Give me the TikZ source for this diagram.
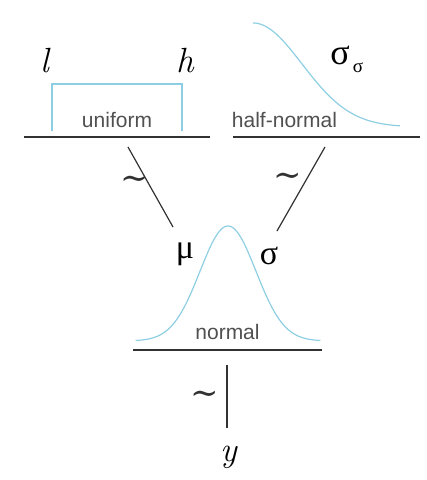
\documentclass[tikz,border=0pt]{standalone}
\usepackage{fontspec}
\setsansfont{Liberation Sans}
\newfontfamily\grk{Liberation Serif}
\newfontfamily\symf{DejaVu Serif}
\definecolor{curveblue}{RGB}{142,206,226}
\definecolor{ink}{RGB}{50,50,50}
\definecolor{lab}{RGB}{80,80,80}
\begin{document}
\begin{tikzpicture}[x=1pt,y=-1pt,
  rule/.style={ink, line width=1.4pt},
  conn/.style={ink, line width=1.2pt},
  dens/.style={curveblue, line width=1.2pt},
  lbl/.style={lab, font=\sffamily\fontsize{21}{24}\selectfont, anchor=base, inner sep=0pt},
  var/.style={font=\itshape\fontsize{35}{40}\selectfont, anchor=base, inner sep=0pt},
  grkvar/.style={font=\grk\fontsize{34}{40}\selectfont, anchor=base, inner sep=0pt},
  tilde/.style={ink, font=\symf\fontsize{34}{38}\selectfont, inner sep=0pt}]
\useasboundingbox (0,0) rectangle (427,480);
% uniform
\node[var] (l) at (45,72) {l};
\node[var] (h) at (185,72) {h};
\draw[dens] (52,131) -- (52,84) -- (182,84) -- (182,131);
\node[lbl] (uni) at (117,127) {uniform};
\coordinate (ruleUa) at (24,137);
\coordinate (ruleUb) at (210,137);
\draw[rule] (ruleUa) -- (ruleUb);
% half-normal
\draw[dens] plot[domain=0:3, samples=80] ({253+49*\x},{127-104*exp(-(\x)*(\x)/2)});
\node[font=\grk\fontsize{36}{40}\selectfont, anchor=base, inner sep=0pt] (ss) at (340,64) {σ};
\node[font=\grk\fontsize{19}{22}\selectfont, anchor=base, inner sep=0pt] (sss) at (358,72) {σ};
\node[lbl] (half) at (284.5,127) {half-normal};
\coordinate (ruleHa) at (233,137);
\coordinate (ruleHb) at (420,137);
\draw[rule] (ruleHa) -- (ruleHb);
% connectors to mu and sigma
\coordinate (c1a) at (128,147);
\coordinate (c1b) at (173,227);
\coordinate (c2a) at (325,147);
\coordinate (c2b) at (277,231);
\draw[conn] (c1a) -- (c1b);
\draw[conn] (c2a) -- (c2b);
\node[tilde] (t1) at (135,183) {∼};
\node[tilde] (t2) at (288,180) {∼};
% normal
\draw[dens] plot[domain=-3.3:3.3, samples=100] ({228+28*\x},{341-115*exp(-(\x)*(\x)/2)});
\node[grkvar] (mu) at (185,258) {μ};
\node[grkvar] (sig) at (269,264) {σ};
\node[lbl] (norm) at (227.5,339) {normal};
\coordinate (ruleNa) at (133,350);
\coordinate (ruleNb) at (322,350);
\draw[rule] (ruleNa) -- (ruleNb);
% y
\coordinate (c3a) at (227,365);
\coordinate (c3b) at (227,428);
\draw[conn] (c3a) -- (c3b);
\node[tilde] (t3) at (205,398) {∼};
\node[var] (y) at (229,461) {y};
\end{tikzpicture}
\end{document}
